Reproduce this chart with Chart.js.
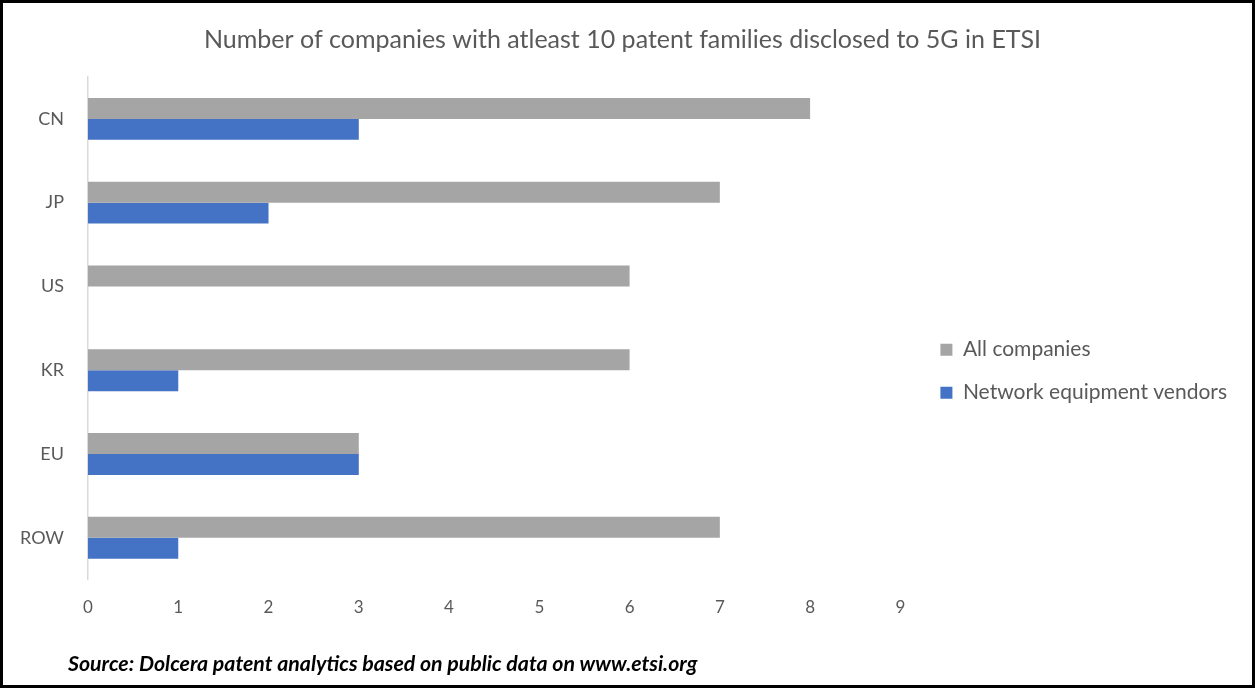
<!DOCTYPE html>
<html>
<head>
<meta charset="utf-8">
<script src="https://cdn.jsdelivr.net/npm/chart.js@4"></script>
<style>
    html, body { margin: 0; padding: 0; background: #fff; }
    #frame {
        position: absolute; left: 0; top: 0;
        width: 1255px; height: 688px;
        box-sizing: border-box;
        border: 3px solid #000;
    }
    #wrap { position: absolute; left: 0; top: 0; width: 1249px; height: 682px; }
    #source {
        position: absolute; left: 65px; top: 647px;
        font-family: Lato, sans-serif; font-weight: 700; font-style: italic;
        font-size: 21.3px; color: #000; white-space: nowrap;
    }
</style>
</head>
<body>
<div id="frame">
    <div id="wrap"><canvas id="patents-chart"></canvas></div>
    <div id="source">Source: Dolcera patent analytics based on public data on www.etsi.org</div>
</div>
<script>
var regions = ['CN', 'JP', 'US', 'KR', 'EU', 'ROW'];
var allCompanies = [8, 7, 6, 6, 3, 7];
var networkVendors = [3, 2, 0, 1, 3, 1];
var xTicks = [0, 1, 2, 3, 4, 5, 6, 7, 8, 9];

var ctx = document.getElementById('patents-chart').getContext('2d');

new Chart(ctx, {
    type: 'bar',
    data: {
        labels: regions,
        datasets: [{
            label: 'All companies',
            backgroundColor: '#a5a5a5',
            data: allCompanies
        }, {
            label: 'Network equipment vendors',
            backgroundColor: '#4472c4',
            data: networkVendors
        }]
    },
    options: {
        indexAxis: 'y',
        responsive: true,
        maintainAspectRatio: false,
        animation: false,
        categoryPercentage: 0.5,
        barPercentage: 1.0,
        layout: {
            padding: { left: 5, right: 15, top: 0, bottom: 49 }
        },
        scales: {
            x: {
                min: 0,
                max: 9.2,
                grid: { display: false, drawTicks: false },
                border: { display: false },
                // only whole numbers up to 9, the extra room on the right stays empty
                afterBuildTicks: function (scale) {
                    scale.ticks = xTicks.map(function (v) { return { value: v }; });
                },
                ticks: {
                    padding: 18,
                    color: '#595959',
                    font: { family: 'Lato', size: 17 }
                }
            },
            y: {
                grid: { display: false, drawTicks: false },
                border: { display: true, color: '#d9d9d9', width: 1.5 },
                afterFit: function (scale) {
                    scale.width = 80;
                },
                ticks: {
                    padding: 24,
                    color: '#595959',
                    font: { family: 'Lato', size: 18 }
                }
            }
        },
        plugins: {
            legend: {
                position: 'right',
                align: 'center',
                maxWidth: 360,
                // empty title just pushes the items down a bit
                title: {
                    display: true,
                    text: '',
                    font: { size: 12 },
                    padding: { top: 0, bottom: 89 }
                },
                labels: {
                    boxWidth: 12,
                    boxHeight: 12,
                    padding: 22,
                    color: '#595959',
                    font: { family: 'Lato', size: 21 }
                }
            },
            title: {
                display: true,
                text: 'Number of companies with atleast 10 patent families disclosed to 5G in ETSI',
                color: '#595959',
                font: { family: 'Lato', size: 25, weight: 'normal' },
                padding: { top: 22, bottom: 22 }
            },
            tooltip: { enabled: false }
        }
    }
});
</script>
</body>
</html>
